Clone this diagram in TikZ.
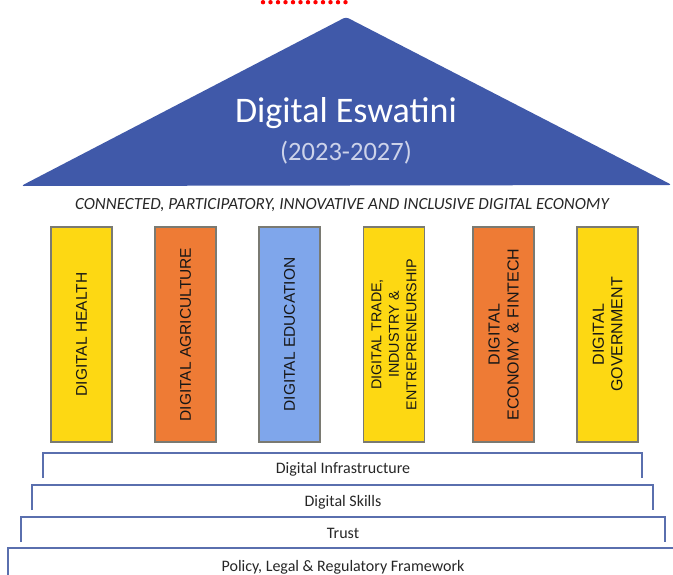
\documentclass[tikz,border=0pt]{standalone}
\usepackage{fontspec}
\setmainfont{Carlito}
\newfontfamily\pillarfont{Liberation Sans}
\begin{document}
\begin{tikzpicture}[x=1pt,y=-1pt,
  pillar/.style={draw=pillaredge,line width=1.4pt,minimum width=61pt,minimum height=215pt,inner sep=0pt},
  plabel/.style={rotate=90,align=center,text=pillartext,font=\pillarfont},
  stepline/.style={draw=stepcol,line width=2pt,line cap=butt},
  steptext/.style={font=\fontsize{16}{18}\selectfont,text=black!85,anchor=base},
]
\definecolor{roof}{HTML}{4059A9}
\definecolor{pillaredge}{HTML}{7A7A72}
\definecolor{pillartext}{HTML}{161616}
\definecolor{pyellow}{HTML}{FDD813}
\definecolor{porange}{HTML}{EE7B35}
\definecolor{pblue}{HTML}{7FA6EB}
\definecolor{stepcol}{HTML}{5A6FAE}
\definecolor{subtitle}{HTML}{CDD3EA}

\useasboundingbox (0,0) rectangle (673,574);
\clip (0,0) rectangle (673,574);

% spell-check mark at the top edge
\foreach \i in {0,...,11}
  \fill[red] (263+7.5*\i,2.2) circle (2.2pt);

% roof
\fill[roof,rounded corners=3pt] (21,186) -- (346,17) -- (672,185) -- cycle;
\node[anchor=base,text=white,font=\fontsize{36}{40}\selectfont] (title) at (346,122) {Digital Eswatini};
\node[anchor=base,text=subtitle,font=\fontsize{26.5}{30}\selectfont] (years) at (346,160) {(2023-2027)};

% tagline
\node[anchor=base,text=black!85,font=\fontsize{17}{20}\selectfont\itshape] (tag) at (342,209)
  {CONNECTED, PARTICIPATORY, INNOVATIVE AND INCLUSIVE DIGITAL ECONOMY};

% pillars
\node[pillar,fill=pyellow] (p1) at (81.5,334.5) {};
\node[pillar,fill=porange] (p2) at (185.5,334.5) {};
\node[pillar,fill=pblue]   (p3) at (289.5,334.5) {};
\node[pillar,fill=pyellow] (p4) at (394,334.5) {};
\node[pillar,fill=porange] (p5) at (503.5,334.5) {};
\node[pillar,fill=pyellow] (p6) at (607.5,334.5) {};

\node[plabel,font=\pillarfont\fontsize{15.5}{18}\selectfont] (l1) at (p1) {DIGITAL HEALTH};
\node[plabel,font=\pillarfont\fontsize{15.5}{18}\selectfont] (l2) at (p2) {DIGITAL AGRICULTURE};
\node[plabel,font=\pillarfont\fontsize{15.5}{18}\selectfont] (l3) at (p3) {DIGITAL EDUCATION};
\node[plabel,font=\pillarfont\fontsize{14.3}{17.5}\selectfont] (l4) at (p4) {DIGITAL TRADE,\\INDUSTRY \&\\ENTREPRENEURSHIP};
\node[plabel,font=\pillarfont\fontsize{16}{19}\selectfont] (l5) at (p5) {DIGITAL\\ECONOMY \& FINTECH};
\node[plabel,font=\pillarfont\fontsize{16}{18.5}\selectfont] (l6) at (p6) {DIGITAL\\GOVERNMENT};

% foundation steps (open brackets)
\draw[stepline] (43,478) -- (43,453) -- (642,453) -- (642,478);
\draw[stepline] (32,510) -- (32,485) -- (653,485) -- (653,510);
\draw[stepline] (21,542) -- (21,517) -- (665,517) -- (665,542);
\draw[stepline] (8,580) -- (8,548) -- (690,548);

\node[steptext] (s1) at (343,473) {Digital Infrastructure};
\node[steptext] (s2) at (343,506) {Digital Skills};
\node[steptext] (s3) at (343,538) {Trust};
\node[steptext] (s4) at (343,571) {Policy, Legal \& Regulatory Framework};
\end{tikzpicture}
\end{document}
